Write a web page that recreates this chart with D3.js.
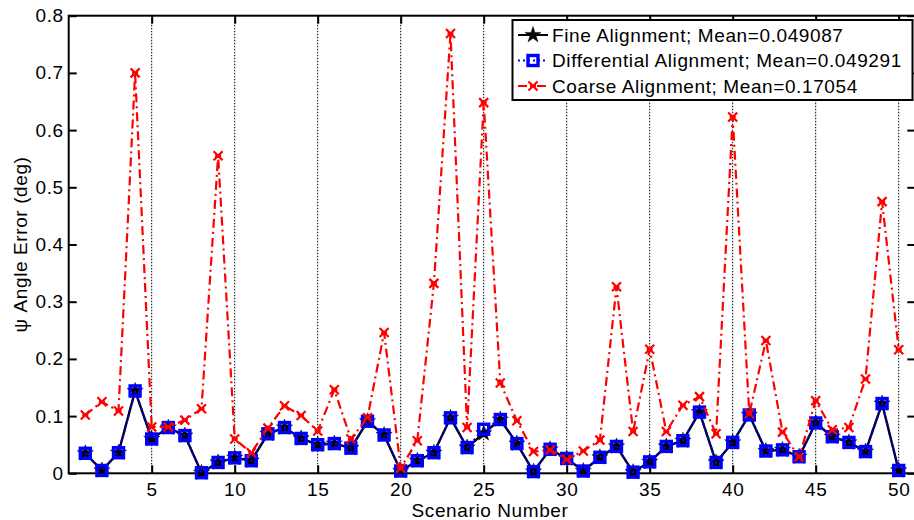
<!DOCTYPE html>
<html>
<head>
<meta charset="utf-8">
<script src="https://cdn.jsdelivr.net/npm/d3@7"></script>
<style>
  html, body { margin: 0; padding: 0; background: #fff; }
  svg { display: block; font-family: "Liberation Sans", Arial, Helvetica, sans-serif; }
</style>
</head>
<body>
<svg id="chart" width="914" height="520"></svg>
<script>
// Scenario numbers 1..50
const scenarios = d3.range(1, 51);

// Heading (psi) angle error per scenario, degrees
const fineError = [
  0.035, 0.005, 0.036, 0.144, 0.060, 0.080, 0.066, 0.001, 0.019, 0.027,
  0.022, 0.069, 0.080, 0.061, 0.050, 0.052, 0.044, 0.091, 0.067, 0.004,
  0.022, 0.036, 0.097, 0.045, 0.070, 0.094, 0.052, 0.003, 0.042, 0.026,
  0.004, 0.028, 0.047, 0.002, 0.020, 0.047, 0.057, 0.107, 0.019, 0.054,
  0.102, 0.039, 0.041, 0.029, 0.088, 0.064, 0.054, 0.038, 0.122, 0.005
];
const differentialError = [
  0.035, 0.005, 0.036, 0.144, 0.060, 0.080, 0.066, 0.001, 0.019, 0.027,
  0.022, 0.069, 0.080, 0.061, 0.050, 0.052, 0.044, 0.091, 0.067, 0.004,
  0.022, 0.036, 0.097, 0.045, 0.077, 0.094, 0.052, 0.003, 0.042, 0.026,
  0.004, 0.028, 0.047, 0.002, 0.020, 0.047, 0.057, 0.107, 0.019, 0.054,
  0.102, 0.039, 0.041, 0.029, 0.088, 0.064, 0.054, 0.038, 0.122, 0.005
];
const coarseError = [
  0.102, 0.125, 0.109, 0.700, 0.081, 0.081, 0.093, 0.113, 0.555, 0.060,
  0.036, 0.079, 0.118, 0.101, 0.074, 0.146, 0.060, 0.097, 0.246, 0.009,
  0.057, 0.332, 0.769, 0.080, 0.648, 0.158, 0.092, 0.038, 0.041, 0.024,
  0.039, 0.058, 0.326, 0.073, 0.217, 0.073, 0.119, 0.134, 0.069, 0.623,
  0.104, 0.232, 0.072, 0.028, 0.127, 0.076, 0.080, 0.165, 0.475, 0.216
];

const legendLabels = [
  "Fine Alignment; Mean=0.049087",
  "Differential Alignment; Mean=0.049291",
  "Coarse Alignment; Mean=0.17054"
];
const xTicks = [5, 10, 15, 20, 25, 30, 35, 40, 45, 50];
const yTicks = [0, 0.1, 0.2, 0.3, 0.4, 0.5, 0.6, 0.7, 0.8];

const svg = d3.select("#chart");
const x = d3.scaleLinear().domain([0, 51]).range([68.7, 915.3]);
const y = d3.scaleLinear().domain([0, 0.8]).range([473.3, 15.7]);
const x0 = x.range()[0], x1 = x.range()[1], y0 = y.range()[0], y1 = y.range()[1];

const fontSize = 19;
const spacing = "0.6px";

// vertical dotted grid at x ticks
svg.append("g").selectAll("line").data(xTicks).join("line")
  .attr("x1", d => x(d)).attr("x2", d => x(d))
  .attr("y1", y0).attr("y2", y1)
  .attr("stroke", "#000").attr("stroke-width", 1)
  .attr("stroke-dasharray", "1.5,1.5");

// axes: ticks point inward on all four sides
const xAxisB = d3.axisBottom(x).tickValues(xTicks).tickSize(-8).tickPadding(9).tickFormat(d3.format("d"));
const xAxisT = d3.axisTop(x).tickValues(xTicks).tickSize(-8).tickFormat("");
const yAxisL = d3.axisLeft(y).tickValues(yTicks).tickSize(-8).tickPadding(5).tickFormat(d => d === 0 ? "0" : d3.format(".1f")(d));
const yAxisR = d3.axisRight(y).tickValues(yTicks).tickSize(-8).tickFormat("");

function styleAxis(g) {
  g.select(".domain").remove();
  g.selectAll(".tick line").attr("stroke", "#000").attr("stroke-width", 2);
  g.selectAll(".tick text").attr("fill", "#000")
    .style("font-size", fontSize + "px")
    .style("letter-spacing", spacing)
    .style("font-family", "'Liberation Sans', Arial, sans-serif");
}
svg.append("g").attr("transform", `translate(0,${y0})`).call(xAxisB).call(styleAxis);
svg.append("g").attr("transform", `translate(0,${y1})`).call(xAxisT).call(styleAxis);
svg.append("g").attr("transform", `translate(${x0},0)`).call(yAxisL).call(styleAxis);
svg.append("g").attr("transform", `translate(${x1},0)`).call(yAxisR).call(styleAxis);

// plot frame
svg.append("rect").attr("x", x0).attr("y", y1).attr("width", x1 - x0).attr("height", y0 - y1)
  .attr("fill", "none").attr("stroke", "#000").attr("stroke-width", 2);

// axis titles
svg.append("text").attr("x", 490).attr("y", 517)
  .attr("text-anchor", "middle").style("font-size", fontSize + "px").style("letter-spacing", spacing)
  .text("Scenario Number");
svg.append("text").attr("transform", `translate(27,${y(0.4)}) rotate(-90)`)
  .attr("text-anchor", "middle").style("font-size", fontSize + "px").style("letter-spacing", spacing)
  .text("ψ Angle Error (deg)");

// marker helpers
const starPath = d3.symbol().type(d3.symbolStar).size(80)();
function drawStar(g, cx, cy) {
  g.append("path").attr("d", starPath).attr("transform", `translate(${cx},${cy})`)
    .attr("fill", "#000").attr("stroke", "#000").attr("stroke-width", 0.5);
}
function drawSquare(g, cx, cy) {
  g.append("rect").attr("x", cx - 5).attr("y", cy - 5).attr("width", 10).attr("height", 10)
    .attr("fill", "none").attr("stroke", "#0000ff").attr("stroke-width", 3.4);
}
function drawCross(g, cx, cy) {
  const s = 4.5;
  g.append("path")
    .attr("d", `M${cx - s},${cy - s}L${cx + s},${cy + s}M${cx - s},${cy + s}L${cx + s},${cy - s}M${cx - 3},${cy}L${cx + 3},${cy}`)
    .attr("stroke", "#ff0000").attr("stroke-width", 2.2).attr("fill", "none");
}

const line = d3.line().x(d => x(d[0])).y(d => y(d[1]));
const series = [
  { values: fineError, color: "#000", dash: null, width: 2.4, marker: drawStar },
  { values: differentialError, color: "#0000ff", dash: "2,3", width: 2.2, marker: drawSquare },
  { values: coarseError, color: "#ff0000", dash: "9,4,2,4", width: 2.2, marker: drawCross }
];

series.forEach(s => {
  const pts = scenarios.map((k, i) => [k, s.values[i]]);
  const g = svg.append("g");
  g.append("path").attr("d", line(pts)).attr("fill", "none")
    .attr("stroke", s.color).attr("stroke-width", s.width)
    .attr("stroke-dasharray", s.dash);
  pts.forEach(p => s.marker(g, x(p[0]), y(p[1])));
});

// legend
const lg = svg.append("g");
lg.append("rect").attr("x", 512.5).attr("y", 20).attr("width", 400).attr("height", 80)
  .attr("fill", "#fff").attr("stroke", "#000").attr("stroke-width", 2);
const rowY = [35, 60.5, 86];
series.forEach((s, i) => {
  lg.append("line").attr("x1", 518).attr("x2", 548).attr("y1", rowY[i]).attr("y2", rowY[i])
    .attr("stroke", s.color).attr("stroke-width", 2).attr("stroke-dasharray", s.dash);
  s.marker(lg, 533, rowY[i]);
  lg.append("text").attr("x", 552).attr("y", rowY[i]).attr("dy", "0.35em")
    .style("font-size", fontSize + "px").style("letter-spacing", spacing)
    .text(legendLabels[i]);
});
</script>
</body>
</html>
